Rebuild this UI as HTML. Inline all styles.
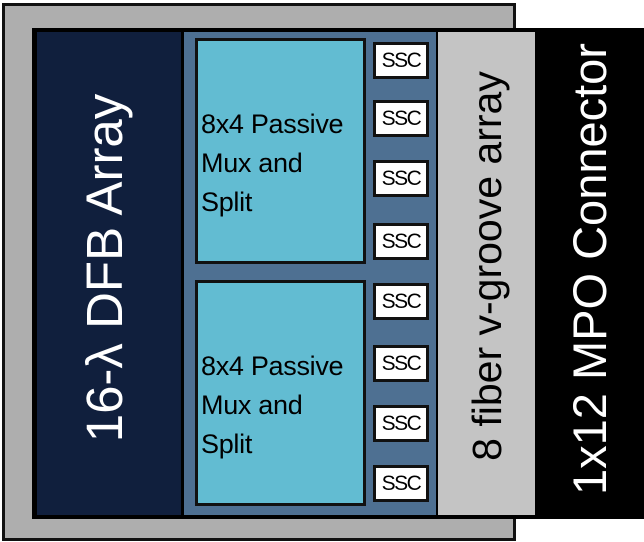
<!DOCTYPE html>
<html><head><style>
body{margin:0;width:644px;height:542px;background:#fff;position:relative;overflow:hidden;font-family:"Liberation Sans",sans-serif}
div{position:absolute;box-sizing:border-box}
.ssc{left:373px;width:56px;height:37px;background:#fff;border:3px solid #111;font-size:21px;display:flex;align-items:center;justify-content:center;letter-spacing:-1.5px}
.mux{left:195px;width:171px;height:226px;background:#62bcd2;border:3px solid #111;font-size:27px;line-height:39px;padding-left:3px;letter-spacing:-0.3px}
.rot{transform:rotate(-90deg);white-space:nowrap;text-align:center}
</style></head><body>
<div style="left:2px;top:3px;width:514px;height:538px;background:#aeaeae;border:3px solid #111"></div>
<div style="left:32px;top:28px;width:612px;height:491px;background:#000"></div>
<div style="left:37px;top:32px;width:144px;height:483px;background:#101f3d"></div>
<div style="left:184px;top:32px;width:252px;height:483px;background:#4e7092"></div>
<div style="left:438px;top:32px;width:97px;height:483px;background:#c4c4c4"></div>
<div class="mux" style="top:38px;padding-top:64px">8x4 Passive<br>Mux and<br>Split</div>
<div class="mux" style="top:280px;padding-top:64px">8x4 Passive<br>Mux and<br>Split</div>
<div class="ssc" style="top:42px">SSC</div>
<div class="ssc" style="top:100px">SSC</div>
<div class="ssc" style="top:160px">SSC</div>
<div class="ssc" style="top:223px">SSC</div>
<div class="ssc" style="top:283px">SSC</div>
<div class="ssc" style="top:345px">SSC</div>
<div class="ssc" style="top:405px">SSC</div>
<div class="ssc" style="top:465px">SSC</div>
<div class="rot" style="left:-135px;top:240px;width:480px;height:56px;color:#fff;font-size:51px;line-height:56px">16-λ DFB Array</div>
<div class="rot" style="left:247px;top:244px;width:480px;height:44px;color:#000;font-size:41px;line-height:44px">8 fiber v-groove array</div>
<div class="rot" style="left:350px;top:246px;width:480px;height:46px;color:#fff;font-size:47px;line-height:46px">1x12 MPO Connector</div>
</body></html>
